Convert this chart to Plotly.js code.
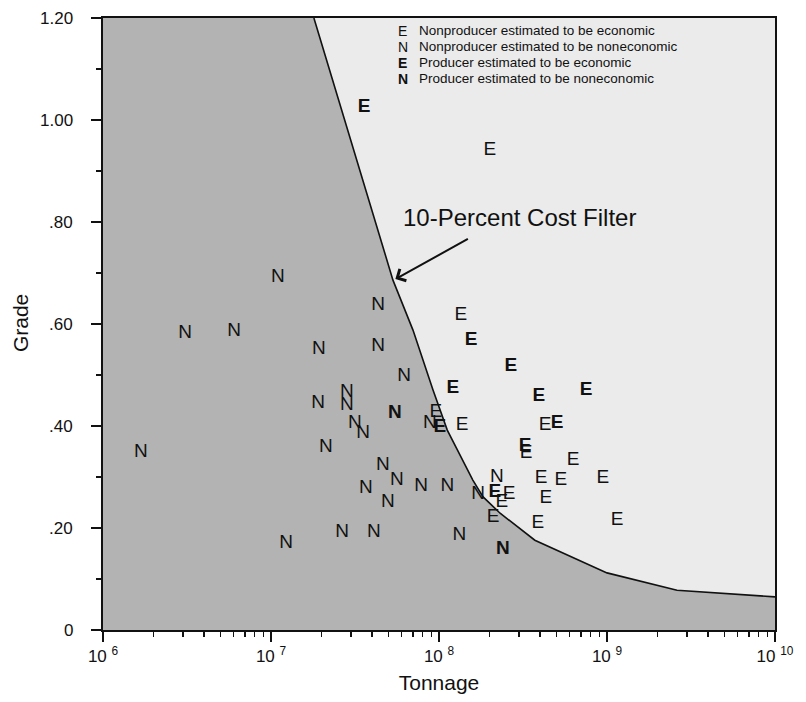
<!DOCTYPE html>
<html>
<head>
<meta charset="utf-8">
<script src="https://cdn.plot.ly/plotly-3.0.1.min.js"></script>
<style>html,body{margin:0;padding:0;background:#fff;}#chart{width:806px;height:702px;}</style>
</head>
<body>
<div id="chart"></div>
<script>
// Nonproducer estimated to be economic (regular E)
var npEconTonnage = [2.01e8, 1.35e8, 9.59e7, 1.37e8, 4.28e8, 3.30e8, 6.28e8, 4.05e8, 5.32e8, 9.46e8, 2.61e8, 2.37e8, 4.33e8, 2.10e8, 3.88e8, 1.15e9];
var npEconGrade   = [0.941, 0.618, 0.427, 0.402, 0.402, 0.347, 0.333, 0.298, 0.294, 0.298, 0.267, 0.251, 0.259, 0.222, 0.210, 0.216];

// Nonproducer estimated to be noneconomic (regular N)
var npNonTonnage = [1.68e6, 3.08e6, 6.03e6, 1.10e7, 1.23e7, 4.34e7, 4.34e7, 1.93e7, 6.19e7, 2.83e7, 2.83e7, 1.91e7, 3.16e7, 3.53e7, 2.12e7, 8.83e7, 4.64e7, 5.62e7, 3.67e7, 4.97e7, 7.82e7, 1.12e8, 1.71e8, 2.21e8, 2.65e7, 4.10e7, 1.32e8];
var npNonGrade   = [0.349, 0.582, 0.586, 0.692, 0.171, 0.637, 0.557, 0.551, 0.498, 0.467, 0.441, 0.445, 0.406, 0.386, 0.359, 0.406, 0.324, 0.294, 0.278, 0.251, 0.282, 0.282, 0.267, 0.300, 0.192, 0.192, 0.186];

// Producer estimated to be economic (bold E)
var prEconTonnage = [3.58e7, 1.55e8, 2.68e8, 1.21e8, 3.93e8, 7.50e8, 1.01e8, 5.04e8, 3.25e8, 2.15e8];
var prEconGrade   = [1.025, 0.569, 0.518, 0.475, 0.459, 0.471, 0.398, 0.406, 0.361, 0.271];

// Producer estimated to be noneconomic (bold N)
var prNonTonnage = [5.47e7, 2.40e8];
var prNonGrade   = [0.425, 0.159];

// 10-Percent Cost Filter curve
var filterTonnage = [1.80e7, 5.32e7, 7.0e7, 9.2e7, 1.12e8, 1.59e8, 1.83e8, 2.31e8, 3.72e8, 1.0e9, 2.61e9, 1.0e10];
var filterGrade   = [1.20, 0.686, 0.588, 0.471, 0.392, 0.294, 0.261, 0.229, 0.176, 0.112, 0.078, 0.065];

// Axis tick labels
var xTickVals = [1e6, 1e7, 1e8, 1e9, 1e10];
var xTickText = ['10 <sup>6</sup>', '10 <sup>7</sup>', '10 <sup>8</sup>', '10 <sup>9</sup>', '10 <sup>10</sup>'];
var yTickVals = [0, 0.2, 0.4, 0.6, 0.8, 1.0, 1.2];
var yTickText = ['0', '.20', '.40', '.60', '.80', '1.00', '1.20'];

// Legend entries
var legendSymbols = ['E', 'N', 'E', 'N'];
var legendBold    = [false, false, true, true];
var legendLabels  = ['Nonproducer estimated to be economic', 'Nonproducer estimated to be noneconomic', 'Producer estimated to be economic', 'Producer estimated to be noneconomic'];

var FONT = 'Liberation Sans, Arial, Helvetica, sans-serif';
var DARK = '#b3b3b3';
var LIGHT = '#ebebeb';

function letters(x, y, ch, bold) {
  return {
    type: 'scatter', mode: 'text', x: x, y: y,
    text: x.map(function () { return ch; }),
    textposition: 'middle center',
    textfont: {family: FONT, size: 19, color: '#111', weight: bold ? 'bold' : 'normal'},
    hoverinfo: 'skip', showlegend: false, cliponaxis: false
  };
}

var fillX = [1e6].concat(filterTonnage);
var fillY = [filterGrade[0]].concat(filterGrade);

var traces = [
  {type: 'scatter', mode: 'lines', x: fillX, y: fillY, fill: 'tozeroy', fillcolor: DARK, line: {width: 0, color: DARK}, hoverinfo: 'skip', showlegend: false},
  {type: 'scatter', mode: 'lines', x: filterTonnage, y: filterGrade, line: {color: '#111', width: 1.6}, hoverinfo: 'skip', showlegend: false},
  letters(npEconTonnage, npEconGrade, 'E', false),
  letters(npNonTonnage, npNonGrade, 'N', false),
  letters(prEconTonnage, prEconGrade, 'E', true),
  letters(prNonTonnage, prNonGrade, 'N', true)
];

var annotations = [];
var legY = [0.979, 0.953, 0.927, 0.901];
for (var i = 0; i < legendLabels.length; i++) {
  annotations.push({xref: 'paper', yref: 'paper', x: 0.4464, y: legY[i], xanchor: 'center', yanchor: 'middle', showarrow: false,
    text: legendBold[i] ? '<b>' + legendSymbols[i] + '</b>' : legendSymbols[i], font: {family: FONT, size: 14, color: '#111'}});
  annotations.push({xref: 'paper', yref: 'paper', x: 0.468, y: legY[i], xanchor: 'left', yanchor: 'middle', showarrow: false,
    text: legendLabels[i], font: {family: FONT, size: 13.5, color: '#111'}});
}
annotations.push({xref: 'x', yref: 'y', x: Math.log10(3.03e8), y: 0.808, xanchor: 'center', yanchor: 'middle', showarrow: false,
  text: '10-Percent Cost Filter', font: {family: FONT, size: 24, color: '#111'}});
annotations.push({xref: 'x', yref: 'y', x: Math.log10(5.5e7), y: 0.688, text: '', showarrow: true,
  arrowhead: 4, arrowsize: 1.3, arrowwidth: 2, arrowcolor: '#111', ax: 74, ay: -41, standoff: 0});
// y-axis title placed as rotated text
annotations.push({xref: 'paper', yref: 'paper', x: -0.123, y: 0.502, xanchor: 'center', yanchor: 'middle', showarrow: false,
  textangle: -90, text: 'Grade', font: {family: FONT, size: 21, color: '#111'}});
// y tick labels, placed through the y scale, set further from the axis like the reference
for (var j = 0; j < yTickVals.length; j++) {
  annotations.push({xref: 'paper', yref: 'y', x: -0.042, y: yTickVals[j], xanchor: 'right', yanchor: 'middle', showarrow: false,
    text: yTickText[j], font: {family: FONT, size: 17, color: '#111'}});
}

var layout = {
  width: 806, height: 702,
  margin: {l: 103, r: 31, t: 18, b: 72},
  paper_bgcolor: '#ffffff', plot_bgcolor: LIGHT,
  showlegend: false,
  font: {family: FONT, color: '#111'},
  xaxis: {
    type: 'log', range: [6, 10], tickmode: 'array', tickvals: xTickVals, ticktext: xTickText,
    ticks: 'outside', ticklen: 10, tickwidth: 1.5, tickcolor: '#111',
    minor: {dtick: 'D1', ticks: 'outside', ticklen: 5, tickwidth: 1.5, tickcolor: '#111', showgrid: false},
    showline: true, linecolor: '#111', linewidth: 1.8, mirror: true,
    showgrid: false, zeroline: false,
    tickfont: {family: FONT, size: 17, color: '#111'},
    title: {text: 'Tonnage', font: {family: FONT, size: 21, color: '#111'}, standoff: 10}
  },
  yaxis: {
    range: [0, 1.2], tickmode: 'array', tickvals: yTickVals, showticklabels: false,
    ticks: 'outside', ticklen: 10, tickwidth: 1.5, tickcolor: '#111',
    minor: {dtick: 0.1, ticks: 'outside', ticklen: 5, tickwidth: 1.5, tickcolor: '#111', showgrid: false},
    showline: true, linecolor: '#111', linewidth: 1.8, mirror: true,
    showgrid: false, zeroline: false
  },
  annotations: annotations
};

Plotly.newPlot('chart', traces, layout, {staticPlot: true, displayModeBar: false});
</script>
</body>
</html>
